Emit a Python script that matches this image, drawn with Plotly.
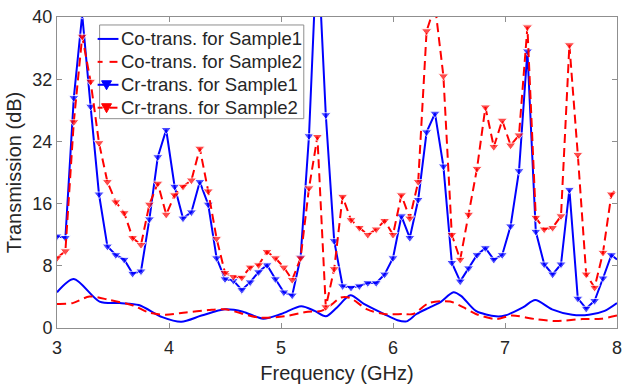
import plotly.graph_objects as go

# Cross-transmission sweep (GHz), 75 MHz steps, closing point at 8 GHz
cr_freq = [3.000, 3.075, 3.150, 3.225, 3.300, 3.375, 3.450, 3.525, 3.600, 3.675,
           3.750, 3.825, 3.900, 3.975, 4.050, 4.125, 4.200, 4.275, 4.350, 4.425,
           4.500, 4.575, 4.650, 4.725, 4.800, 4.875, 4.950, 5.025, 5.100, 5.175,
           5.250, 5.325, 5.400, 5.475, 5.550, 5.625, 5.700, 5.775, 5.850, 5.925,
           6.000, 6.075, 6.150, 6.225, 6.300, 6.375, 6.450, 6.525, 6.600, 6.675,
           6.750, 6.825, 6.900, 6.975, 7.050, 7.125, 7.200, 7.275, 7.350, 7.425,
           7.500, 7.575, 7.650, 7.725, 7.800, 7.875, 7.950, 8.000]

cr_sample1 = [11.8, 11.6, 29.6, 40.3, 28.5, 17.2, 10.5, 9.4, 8.8, 7.0,
              7.3, 14.0, 22.0, 25.5, 18.2, 14.1, 14.9, 18.8, 15.9, 9.0,
              6.3, 6.1, 4.9, 5.9, 7.2, 8.1, 6.3, 4.6, 4.2, 9.1,
              24.7, 50.0, 27.4, 11.2, 5.4, 5.2, 5.4, 5.8, 5.8, 6.9,
              9.0, 14.4, 11.6, 16.5, 25.2, 27.6, 20.8, 8.4, 6.0, 7.7,
              9.4, 10.3, 8.8, 9.4, 13.1, 20.2, 35.6, 12.4, 8.2, 6.9,
              8.2, 17.8, 3.8, 2.5, 3.5, 6.4, 9.4, 8.8]

cr_sample2 = [9.0, 9.9, 26.5, 37.5, 31.7, 23.8, 18.8, 16.2, 14.8, 11.6,
              10.7, 15.9, 18.6, 14.6, 17.1, 18.2, 19.0, 23.1, 17.6, 11.5,
              7.1, 6.6, 6.5, 7.8, 8.1, 9.8, 9.0, 7.8, 6.2, 9.0,
              18.0, 24.6, 2.7, 7.6, 16.9, 13.9, 12.9, 12.0, 12.7, 13.8,
              12.0, 17.1, 14.1, 18.8, 38.2, 41.5, 32.4, 12.0, 8.8, 14.6,
              20.5, 28.4, 23.3, 26.7, 23.5, 24.8, 38.7, 14.2, 12.7, 12.9,
              14.4, 36.4, 22.3, 6.9, 5.2, 9.7, 17.2, 17.9]

# Co-transmission curves
co1_freq = [3.0, 3.15, 3.38, 3.56, 3.73, 3.94, 4.11, 4.29, 4.5, 4.66,
            4.84, 5.0, 5.18, 5.30, 5.40, 5.50, 5.62, 5.74, 5.92, 6.04,
            6.12, 6.21, 6.32, 6.42, 6.54, 6.61, 6.74, 6.92, 7.0, 7.16,
            7.27, 7.42, 7.6, 7.75, 7.89, 8.0]
co1_vals = [4.6, 6.3, 3.4, 3.2, 2.95, 1.4, 0.8, 1.6, 2.4, 2.1,
            1.2, 1.8, 2.8, 2.2, 1.5, 2.65, 4.2, 3.1, 1.8, 1.0,
            0.85, 1.8, 2.6, 3.3, 4.6, 4.1, 2.2, 1.5, 1.6, 2.65,
            3.6, 2.4, 1.7, 1.7, 2.2, 3.2]

co2_freq = [3.0, 3.14, 3.29, 3.47, 3.68, 3.82, 3.97, 4.15, 4.35, 4.5,
            4.8, 5.03, 5.24, 5.36, 5.45, 5.53, 5.61, 5.77, 5.92, 6.09,
            6.18, 6.32, 6.51, 6.63, 6.74, 6.92, 7.06, 7.27, 7.45, 7.69,
            7.86, 8.0]
co2_vals = [3.1, 3.2, 4.05, 3.6, 2.9, 2.0, 1.7, 2.0, 2.3, 2.4,
            1.35, 1.5, 2.1, 2.2, 3.0, 3.9, 3.9, 2.4, 1.8, 1.8,
            1.8, 3.2, 3.4, 2.65, 1.8, 1.15, 1.6, 1.15, 0.9, 1.15,
            1.2, 1.6]

series_names = ["Co-trans. for Sample1", "Co-trans. for Sample2",
                "Cr-trans. for Sample1", "Cr-trans. for Sample2"]

x_ticks = [3, 4, 5, 6, 7, 8]
y_ticks = [0, 8, 16, 24, 32, 40]

BLUE = "#0000FF"
RED = "#FF0000"
TEXT = "#262626"
AXIS = "#8f8f8f"
FONT = "Liberation Sans, Arial, sans-serif"
DASH = "9px,5px"
MARKER = 9

W, H = 627, 386
M_L, M_R, M_T, M_B = 57, 5, 17, 57
PLOT_W = W - M_L - M_R
PLOT_H = H - M_T - M_B


def px(x):
    """Pixel column -> paper x."""
    return (x - M_L) / PLOT_W


def py(y):
    """Pixel row (from top) -> paper y."""
    return (H - M_B - y) / PLOT_H


# the 8 GHz closing point carries no marker
marker_sizes = [MARKER] * (len(cr_freq) - 1) + [0]

fig = go.Figure()
fig.add_trace(go.Scatter(
    x=co1_freq, y=co1_vals, mode="lines", name=series_names[0],
    line=dict(color=BLUE, width=2, shape="spline", smoothing=0.8)))
fig.add_trace(go.Scatter(
    x=co2_freq, y=co2_vals, mode="lines", name=series_names[1],
    line=dict(color=RED, width=2, dash=DASH, shape="spline", smoothing=0.8)))
fig.add_trace(go.Scatter(
    x=cr_freq, y=cr_sample1, mode="lines+markers", name=series_names[2],
    line=dict(color=BLUE, width=2),
    marker=dict(symbol="triangle-down", size=marker_sizes, color=BLUE)))
fig.add_trace(go.Scatter(
    x=cr_freq, y=cr_sample2, mode="lines+markers", name=series_names[3],
    line=dict(color=RED, width=2, dash=DASH),
    marker=dict(symbol="triangle-down", size=marker_sizes, color=RED)))

axis_common = dict(
    showgrid=False, zeroline=False, showline=True, linecolor=AXIS, linewidth=1,
    mirror="ticks", ticks="inside", ticklen=5, tickcolor=AXIS, tickwidth=1,
    tickfont=dict(family=FONT, size=18, color=TEXT), ticklabeloverflow="allow",
)

fig.update_xaxes(
    range=[3, 8], tickmode="array", tickvals=x_ticks, ticklabelstandoff=3,
    title=dict(text="Frequency (GHz)", font=dict(family=FONT, size=20, color=TEXT),
               standoff=9),
    **axis_common)
fig.update_yaxes(
    range=[0, 40], tickmode="array", tickvals=y_ticks,
    title=dict(text="Transmission (dB)", font=dict(family=FONT, size=20, color=TEXT),
               standoff=5),
    **axis_common)

# Boxed legend in the upper-left corner of the axes
shapes = [dict(type="rect", xref="paper", yref="paper",
               x0=px(100), x1=px(306), y0=py(119), y1=py(25),
               line=dict(color=AXIS, width=1), fillcolor="white", layer="above")]
annotations = []
legend_styles = [(BLUE, "solid", False), (RED, "dash", False),
                 (BLUE, "solid", True), (RED, "dash", True)]
row_y = [39, 62, 85, 108]
for name, (color, dash, has_marker), ry in zip(series_names, legend_styles, row_y):
    if dash == "solid":
        shapes.append(dict(type="line", xref="paper", yref="paper",
                           x0=px(98), x1=px(119), y0=py(ry), y1=py(ry),
                           line=dict(color=color, width=2), layer="above"))
    else:
        for a, b in [(98, 103), (110, 118)]:
            shapes.append(dict(type="line", xref="paper", yref="paper",
                               x0=px(a), x1=px(b), y0=py(ry), y1=py(ry),
                               line=dict(color=color, width=2), layer="above"))
    if has_marker:
        cx = 107
        path = (f"M {px(cx - 5)} {py(ry - 4)} L {px(cx + 5)} {py(ry - 4)} "
                f"L {px(cx)} {py(ry + 5)} Z")
        shapes.append(dict(type="path", xref="paper", yref="paper", path=path,
                           fillcolor=color, line=dict(color=color, width=1),
                           layer="above"))
    annotations.append(dict(
        text=name, xref="paper", yref="paper", x=px(120), y=py(ry),
        xanchor="left", yanchor="middle", showarrow=False,
        font=dict(family=FONT, size=18.5, color=TEXT)))

fig.update_layout(
    width=W, height=H,
    margin=dict(l=M_L, r=M_R, t=M_T, b=M_B),
    paper_bgcolor="white", plot_bgcolor="white",
    font=dict(family=FONT, color=TEXT),
    showlegend=False,
    shapes=shapes,
    annotations=annotations,
)

fig.write_html("out.html")
